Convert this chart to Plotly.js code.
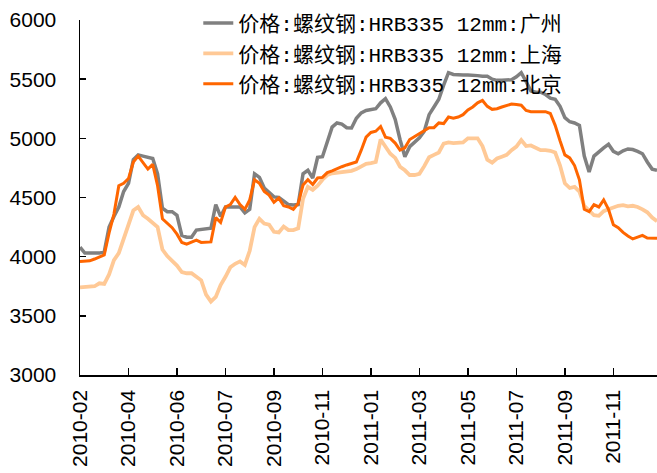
<!DOCTYPE html>
<html>
<head>
<meta charset="utf-8">
<script src="https://cdn.plot.ly/plotly-3.0.1.min.js"></script>
<style>html,body{margin:0;padding:0;background:#fff;}#chart{width:657px;height:473px;}</style>
</head>
<body>
<div id="chart"></div>
<script>
// Tick labels shown on the category-style date axis (every 10th sample)
var tickLabels = ["2010-02","2010-04","2010-06","2010-07","2010-09","2010-11","2011-01","2011-03","2011-05","2011-07","2011-09","2011-11"];
var tickEvery = 10;

var seriesNames = ["价格:螺纹钢:HRB335 12mm:广州","价格:螺纹钢:HRB335 12mm:上海","价格:螺纹钢:HRB335 12mm:北京"];

var guangzhou = [4080,4030,4030,4030,4030,4040,4250,4340,4420,4550,
4620,4820,4860,4850,4840,4830,4700,4410,4380,4380,
4350,4180,4165,4165,4225,4230,4235,4240,4440,4340,
4420,4420,4420,4420,4370,4400,4700,4670,4580,4540,
4505,4500,4470,4440,4437,4440,4700,4730,4665,4840,
4845,4960,5095,5130,5120,5090,5087,5170,5215,5235,
5240,5250,5300,5335,5265,5160,4990,4845,4930,4965,
5005,5060,5200,5265,5330,5450,5555,5540,5535,5535,
5535,5535,5530,5525,5525,5500,5490,5490,5490,5495,
5520,5555,5480,5400,5390,5390,5370,5340,5330,5270,
5175,5140,5130,5110,4850,4715,4850,4890,4920,4950,
4890,4870,4895,4910,4905,4890,4870,4800,4740,4730];

var shanghai = [3740,3745,3745,3750,3775,3770,3850,3970,4030,4150,
4270,4390,4420,4350,4320,4280,4250,4060,4005,3965,
3925,3870,3860,3860,3830,3800,3680,3620,3660,3760,
3830,3910,3940,3960,3930,4050,4250,4320,4280,4270,
4210,4205,4255,4225,4225,4240,4490,4590,4565,4600,
4650,4690,4705,4710,4710,4715,4725,4740,4760,4785,
4790,4800,4990,4930,4870,4835,4760,4730,4690,4690,
4700,4765,4840,4860,4880,4955,4965,4960,4960,4965,
5000,5000,5000,4935,4820,4795,4830,4845,4860,4900,
4930,4985,4935,4940,4920,4900,4900,4895,4880,4770,
4620,4580,4590,4550,4430,4385,4350,4345,4385,4400,
4415,4430,4435,4425,4430,4420,4400,4375,4330,4300];

var beijing = [3960,3960,3965,3980,4000,4015,4200,4360,4600,4620,
4660,4800,4850,4790,4740,4780,4600,4320,4280,4245,
4190,4120,4105,4125,4140,4120,4125,4125,4330,4290,
4420,4440,4500,4440,4400,4480,4650,4620,4550,4520,
4460,4495,4430,4420,4400,4450,4605,4650,4610,4665,
4670,4710,4725,4745,4760,4775,4790,4800,4900,5010,
5050,5060,5100,5010,5000,4960,4900,4920,4990,5015,
5040,5060,5090,5090,5130,5125,5180,5170,5180,5200,
5240,5265,5300,5320,5270,5245,5250,5265,5280,5290,
5285,5280,5235,5225,5225,5225,5225,5210,5110,4980,
4860,4835,4770,4650,4400,4380,4440,4420,4480,4400,
4270,4245,4205,4175,4150,4165,4180,4158,4155,4155];

var colors = ["#808080","#FFC996","#FF6600"];
var widths = [3.5,3.8,3];
var allSeries = [guangzhou, shanghai, beijing];

var xs = guangzhou.map(function(_, i){ return i; });
var tickVals = tickLabels.map(function(_, i){ return i * tickEvery; });

var traces = allSeries.map(function(s, k){
  return {
    x: xs, y: s, type: "scatter", mode: "lines",
    name: seriesNames[k],
    line: {color: colors[k], width: widths[k]}
  };
});

var layout = {
  width: 657, height: 473,
  margin: {l: 80, r: 0, t: 20, b: 98, pad: 0},
  paper_bgcolor: "#ffffff", plot_bgcolor: "#ffffff",
  font: {family: "Liberation Sans, Arial, sans-serif", color: "#000", size: 21},
  showlegend: true,
  legend: {
    x: 0.205, y: 1.048, xanchor: "left", yanchor: "top",
    bgcolor: "rgba(0,0,0,0)", borderwidth: 0,
    font: {family: "Liberation Mono, Noto Sans CJK SC, monospace", size: 21, color: "#000"},
    tracegroupgap: 0
  },
  xaxis: {
    range: [0, xs.length - 1],
    tickmode: "array", tickvals: tickVals, ticktext: tickLabels,
    tickangle: -90,
    ticks: "inside", ticklen: 7, tickwidth: 1.5, tickcolor: "#000",
    showline: true, linecolor: "#000", linewidth: 1.5,
    showgrid: false, zeroline: false,
    tickfont: {size: 21, family: "Liberation Sans, Arial, sans-serif"},
    ticklabelstandoff: 5
  },
  yaxis: {
    range: [3000, 6000], dtick: 500, tick0: 3000,
    ticks: "inside", ticklen: 6, tickwidth: 1.5, tickcolor: "#000",
    showline: true, linecolor: "#000", linewidth: 1.5,
    showgrid: false, zeroline: false,
    tickfont: {size: 21, family: "Liberation Sans, Arial, sans-serif"},
    ticklabelstandoff: 18
  }
};

Plotly.newPlot("chart", traces, layout, {staticPlot: true, displayModeBar: false});
</script>
</body>
</html>
